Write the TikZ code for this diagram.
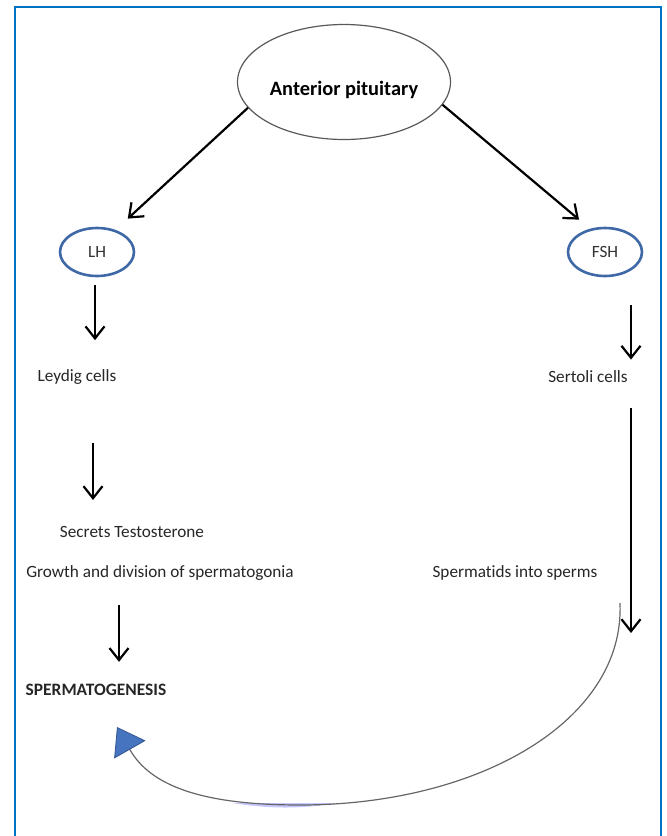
\documentclass[tikz,border=0pt]{standalone}
\usepackage{fontspec}
\setmainfont{Carlito}[Ligatures=NoCommon]
\usepackage{xcolor}
\usepackage{tikz}
\usetikzlibrary{shapes,arrows.meta,positioning,calc}

\definecolor{framebl}{RGB}{0,114,198}
\definecolor{ringbl}{RGB}{62,104,166}
\definecolor{tipbl}{RGB}{70,116,190}
\definecolor{tipedge}{RGB}{50,85,145}

\begin{document}
\begin{tikzpicture}[x=0.5pt,y=-0.5pt,
  lbl/.style={inner sep=0pt, text=black!85, font=\fontsize{8.6}{10}\selectfont},
  hormone/.style={ellipse, draw=ringbl, line width=1.3pt, minimum width=37pt, minimum height=24pt, inner sep=0pt, text=black!80, font=\fontsize{8.6}{10}\selectfont},
  arr/.style={line width=1.1pt, -{Straight Barb[length=6pt,width=9.5pt]}}]
\useasboundingbox (0,0) rectangle (667,836);

% frame
\draw[framebl, line width=1.3pt] (15,836) -- (15,7) -- (661,7) -- (661,836);

% Anterior pituitary
\node[ellipse, draw=black!65, line width=0.6pt, minimum width=106.5pt, minimum height=57.5pt, inner sep=0pt,
  label={[yshift=-4pt, font=\fontsize{10.2}{12}\selectfont\bfseries]center:Anterior pituitary}] (pit) at (344,82) {};

% hormones
\node[hormone] (lh) at (97,252) {LH};
\node[hormone] (fsh) at (605,252) {FSH};
\draw[arr, shorten >=8.3pt] (pit.195) -- (lh.50);
\draw[arr, shorten >=7.1pt] (pit.347) -- (fsh.123);

% LH side
\node[lbl] (ley) at (77,377) {Leydig cells};
\node[lbl] (test) at (132,532) {Secrets Testosterone};
\node[lbl] (grow) at (160,573) {Growth and division of spermatogonia};
\node[lbl, font=\fontsize{8.7}{10}\selectfont\bfseries] (sperm) at (96,690) {SPERMATOGENESIS};
\draw[arr, shorten <=4pt, shorten >=14.5pt] ([xshift=-1pt]lh.south) -- ([xshift=-1pt]lh.south |- ley.north);
\draw[arr, shorten <=29pt, shorten >=13pt] ([xshift=8pt]ley.south) -- ([xshift=8pt]ley.south |- test.north);
\draw[arr, shorten <=12pt, shorten >=11pt] ([xshift=-20.5pt]grow.south) -- ([xshift=-20.5pt]grow.south |- sperm.north);

% FSH side
\node[lbl] (sert) at (588,377) {Sertoli cells};
\node[lbl] (spt) at (515,573) {Spermatids into sperms};
\coordinate (spmend) at (631,633);
\draw[arr, shorten <=14pt, shorten >=5.5pt] (fsh.south -| spmend) -- (sert.north -| spmend);
\draw[arr, shorten <=12.5pt] (sert.south -| spmend) -- (spmend);

% loop back to spermatogenesis
\coordinate (loopst) at (620,603);
\coordinate (loopend) at (117,727);
\fill[blue!22] (232,803) .. controls (270,809) and (300,809) .. (338,803) -- cycle;
\draw[black!60, line width=0.6pt, -{Triangle[length=13pt,width=18pt,color=tipedge,fill=tipbl,line width=0.4pt]}]
  (loopst) .. controls (625,720) and (480,805) .. (300,805)
  .. controls (200,805) and (150,785) .. (loopend);
\end{tikzpicture}
\end{document}
